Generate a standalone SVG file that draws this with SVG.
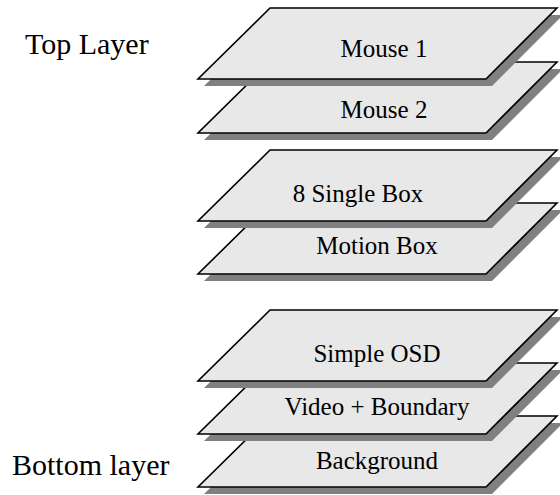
<svg xmlns="http://www.w3.org/2000/svg" width="560" height="495" viewBox="0 0 560 495">
<defs>
<style>
.shadow{fill:#808080;stroke:none}
.plane{fill:#e8e8e8;stroke:#000;stroke-width:1.6;stroke-linejoin:miter}
.lbl{font-family:"Liberation Serif","Times New Roman",serif;font-size:25px;fill:#000;text-anchor:middle}
.side{font-family:"Liberation Serif","Times New Roman",serif;font-size:30px;fill:#000}
</style>
<polygon id="pl" points="270,0 557,0 486,71 198,71"/>
</defs>
<rect width="560" height="495" fill="#fff"/>
<g id="connectors"></g>
<g id="background-layer" transform="translate(0,416)">
<use href="#pl" class="shadow" x="6" y="7"/>
<use href="#pl" class="plane"/>
<text class="lbl" x="377" y="53">Background</text>
</g>
<g id="video-boundary-layer" transform="translate(0,363)">
<use href="#pl" class="shadow" x="6" y="7"/>
<use href="#pl" class="plane"/>
<text class="lbl" x="377" y="52">Video + Boundary</text>
</g>
<g id="simple-osd-layer" transform="translate(0,310)">
<use href="#pl" class="shadow" x="6" y="7"/>
<use href="#pl" class="plane"/>
<text class="lbl" x="377" y="52">Simple OSD</text>
</g>
<g id="motion-box-layer" transform="translate(0,203)">
<use href="#pl" class="shadow" x="6" y="7"/>
<use href="#pl" class="plane"/>
<text class="lbl" x="377" y="51">Motion Box</text>
</g>
<g id="single-box-layer" transform="translate(0,150)">
<use href="#pl" class="shadow" x="6" y="7"/>
<use href="#pl" class="plane"/>
<text class="lbl" x="358" y="52">8 Single Box</text>
</g>
<g id="mouse2-layer" transform="translate(0,62)">
<use href="#pl" class="shadow" x="6" y="7"/>
<use href="#pl" class="plane"/>
<text class="lbl" x="384" y="56">Mouse 2</text>
</g>
<g id="mouse1-layer" transform="translate(0,8)">
<use href="#pl" class="shadow" x="6" y="7"/>
<use href="#pl" class="plane"/>
<text class="lbl" x="384" y="49">Mouse 1</text>
</g>
<g id="top-label"><text class="side" x="25" y="54">Top Layer</text></g>
<g id="bottom-label"><text class="side" x="12" y="475">Bottom layer</text></g>
</svg>
